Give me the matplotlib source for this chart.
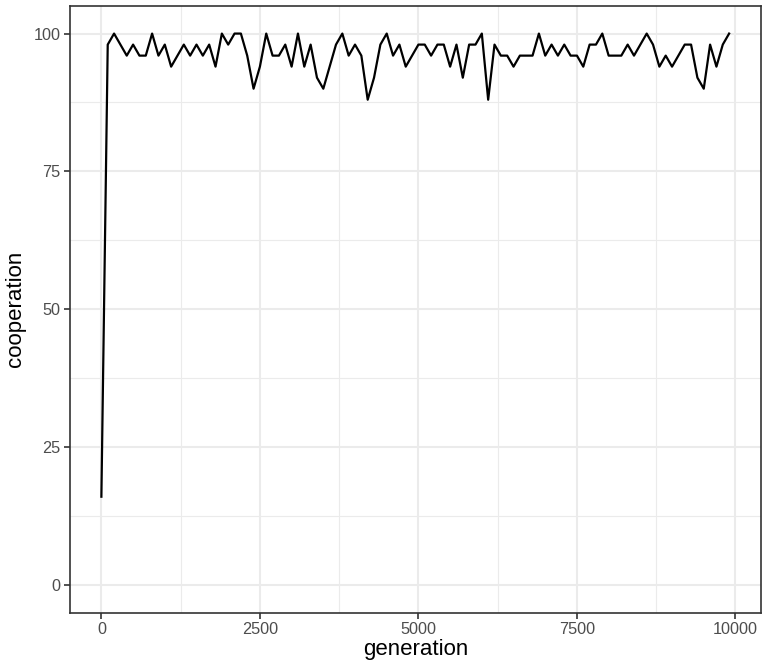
import matplotlib
matplotlib.use("Agg")
import matplotlib.pyplot as plt
from matplotlib.ticker import FixedLocator

plt.rcParams['font.family'] = ['Liberation Sans', 'DejaVu Sans']

generation = list(range(0, 10000, 100))
cooperation = [
    16, 98, 100, 98, 96, 98, 96, 96, 100, 96,
    98, 94, 96, 98, 96, 98, 96, 98, 94, 100,
    98, 100, 100, 96, 90, 94, 100, 96, 96, 98,
    94, 100, 94, 98, 92, 90, 94, 98, 100, 96,
    98, 96, 88, 92, 98, 100, 96, 98, 94, 96,
    98, 98, 96, 98, 98, 94, 98, 92, 98, 98,
    100, 88, 98, 96, 96, 94, 96, 96, 96, 100,
    96, 98, 96, 98, 96, 96, 94, 98, 98, 100,
    96, 96, 96, 98, 96, 98, 100, 98, 94, 96,
    94, 96, 98, 98, 92, 90, 98, 94, 98, 100,
]
x_ticks = [0, 2500, 5000, 7500, 10000]
y_ticks = [0, 25, 50, 75, 100]

fig = plt.figure(figsize=(7.63, 6.64), dpi=100)
ax = fig.add_axes([70 / 763, (664 - 612.5) / 664, (760.5 - 70) / 763, (612.5 - 6) / 664])

ax.plot(generation, cooperation, color='black', linewidth=1.6, zorder=3)

xmin, xmax = 0, 9900
pad = 0.05 * (xmax - xmin)
ax.set_xlim(xmin - pad, xmax + pad)
ax.set_ylim(-5, 105)

ax.xaxis.set_major_locator(FixedLocator(x_ticks))
ax.yaxis.set_major_locator(FixedLocator(y_ticks))
ax.xaxis.set_minor_locator(FixedLocator([1250, 3750, 6250, 8750]))
ax.yaxis.set_minor_locator(FixedLocator([12.5, 37.5, 62.5, 87.5]))
ax.set_xticklabels([str(v) for v in x_ticks])
ax.set_yticklabels([str(v) for v in y_ticks])

ax.grid(which='major', color='#EBEBEB', linewidth=1.5, zorder=0)
ax.grid(which='minor', color='#EBEBEB', linewidth=0.8, zorder=0)
ax.set_axisbelow(True)

for s in ax.spines.values():
    s.set_color('#333333')
    s.set_linewidth(1.2)

ax.tick_params(which='major', length=4, width=1.2, color='#333333',
               labelsize=11.7, labelcolor='#4D4D4D', pad=3)
ax.tick_params(which='minor', length=0)

ax.set_xlabel('generation', fontsize=16, color='black', labelpad=1)
ax.set_ylabel('cooperation', fontsize=16, color='black', labelpad=5)

fig.savefig('out.png', dpi=100, facecolor='white')
